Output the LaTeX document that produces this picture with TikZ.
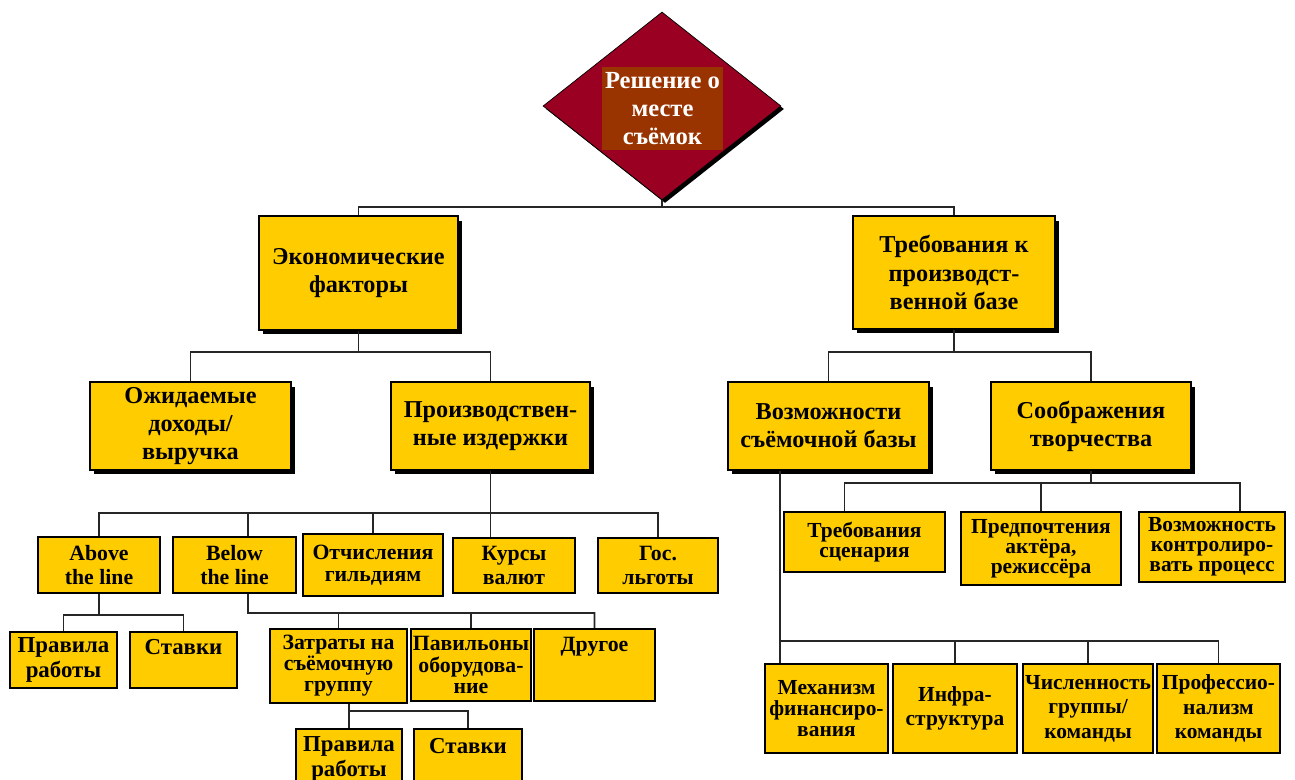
\documentclass[tikz,border=0pt]{standalone}
\usepackage{fontspec}
\setmainfont{Liberation Serif}
\usetikzlibrary{positioning, shapes.geometric, shadows}
\definecolor{boxyellow}{RGB}{255,204,0}
\definecolor{decred}{RGB}{153,0,34}
\definecolor{decbrown}{RGB}{153,51,0}

\begin{document}
\begin{tikzpicture}[x=0.02cm, y=-0.02cm,
		shade/.style={drop shadow={shadow xshift=0.08cm, shadow yshift=-0.09cm, fill=black, opacity=1}},
		lvl/.style={rectangle, draw=black, line width=1.1pt, fill=boxyellow, align=center, inner sep=1pt, shade, font=\fontsize{13.8}{16}\selectfont\bfseries},
		sub/.style={rectangle, draw=black, line width=1.1pt, fill=boxyellow, align=center, inner sep=1pt, font=\fontsize{12.4}{14}\selectfont\bfseries},
		big/.style={font=\fontsize{13}{14.7}\selectfont\bfseries},
		tight/.style={font=\fontsize{12.2}{11.5}\selectfont\bfseries},
		link/.style={draw=black!85, line width=1pt}]
	\useasboundingbox (0,0) rectangle (1295,780);
	\node[diamond, draw=black, fill=decred, minimum width=4.76cm, minimum height=3.76cm, inner sep=0pt, drop shadow={shadow xshift=0.06cm, shadow yshift=-0.06cm, fill=black, opacity=1}] (dec) at (662,106) {};
	\node[fill=decbrown, text=white, align=center, inner sep=0pt, minimum width=2.42cm, minimum height=1.66cm, font=\fontsize{14}{16}\selectfont\bfseries] (dectxt) at (662.5,108.5) {Решение о\\месте\\съёмок};
	\node[lvl, minimum width=3.98cm, minimum height=2.28cm] (econ) at (358.5,273) {Экономические\\факторы};
	\node[lvl, minimum width=4.04cm, minimum height=2.26cm] (base) at (954,272.5) {Требования к\\производст-\\венной базе};
	\node[lvl, minimum width=4.02cm, minimum height=1.76cm] (income) at (190.5,426) {Ожидаемые\\доходы/\\выручка};
	\node[lvl, minimum width=3.98cm, minimum height=1.76cm] (cost) at (490.5,426) {Производствен-\\ные издержки};
	\node[lvl, minimum width=4.02cm, minimum height=1.76cm] (site) at (828.5,426) {Возможности\\съёмочной базы};
	\node[lvl, minimum width=4.00cm, minimum height=1.76cm] (art) at (1091,426) {Соображения\\творчества};
	\node[sub, minimum width=2.44cm, minimum height=1.12cm] (above) at (99,565) {Above\\the line};
	\node[sub, minimum width=2.46cm, minimum height=1.12cm] (below) at (234.5,565) {Below\\the line};
	\node[sub, minimum width=2.80cm, minimum height=1.24cm, font=\fontsize{12.4}{12.5}\selectfont\bfseries] (guild) at (373,565) {Отчисления\\гильдиям};
	\node[sub, minimum width=2.44cm, minimum height=1.10cm] (fx) at (514,565.5) {Курсы\\валют};
	\node[sub, minimum width=2.40cm, minimum height=1.10cm] (gov) at (658,565.5) {Гос.\\льготы};
	\node[sub, big, minimum width=2.14cm, minimum height=1.12cm] (rulesA) at (63.5,660) {Правила\\работы};
	\node[sub, big, minimum width=2.14cm, minimum height=1.12cm] (ratesA) at (183.5,660) {Ставки\\~};
	\node[sub, minimum width=2.74cm, minimum height=1.48cm, font=\fontsize{12.4}{12}\selectfont\bfseries] (crew) at (338.5,666) {Затраты на\\съёмочную\\группу};
	\node[sub, minimum width=2.40cm, minimum height=1.44cm, font=\fontsize{12.4}{12}\selectfont\bfseries] (stage) at (471,665) {Павильоны\\оборудова-\\ние};
	\node[sub, minimum width=2.42cm, minimum height=1.44cm, font=\fontsize{12.4}{12}\selectfont\bfseries] (other) at (594.5,665) {Другое\\~\\~};
	\node[sub, big, minimum width=2.12cm, minimum height=1.20cm] (rulesB) at (349,759) {Правила\\работы};
	\node[sub, big, minimum width=2.16cm, minimum height=1.20cm] (ratesB) at (468,759) {Ставки\\~};
	\node[sub, tight, minimum width=3.22cm, minimum height=1.20cm] (script) at (864.5,542) {Требования\\сценария};
	\node[sub, tight, minimum width=3.20cm, minimum height=1.46cm] (actor) at (1041,548.5) {Предпочтения\\актёра,\\режиссёра};
	\node[sub, tight, minimum width=2.92cm, minimum height=1.40cm] (control) at (1212,547) {Возможность\\контролиро-\\вать процесс};
	\node[sub, minimum width=2.46cm, minimum height=1.78cm, font=\fontsize{12.2}{12}\selectfont\bfseries] (fund) at (826.5,708.5) {Механизм\\финансиро-\\вания};
	\node[sub, minimum width=2.48cm, minimum height=1.78cm, font=\fontsize{12.2}{13.5}\selectfont\bfseries] (infra) at (955,708.5) {Инфра-\\структура};
	\node[sub, minimum width=2.56cm, minimum height=1.78cm, font=\fontsize{12.2}{13.9}\selectfont\bfseries] (size) at (1088,708.5) {Численность\\группы/\\команды};
	\node[sub, minimum width=2.46cm, minimum height=1.78cm, font=\fontsize{12.2}{13.9}\selectfont\bfseries] (prof) at (1218.5,708.5) {Профессио-\\нализм\\команды};
	\coordinate (j0) at (662,207);
	\coordinate (j1) at (358.5,352);
	\coordinate (j2) at (954,352);
	\coordinate (j3) at (490.5,513);
	\coordinate (j4) at (99,615);
	\coordinate (j5) at (248,613);
	\coordinate (j6) at (349,711);
	\coordinate (j7) at (780,641);
	\coordinate (j8) at (1091,483);
	\draw[link] (dec.south) -- (j0);
	\draw[link] (econ.north) |- (j0) -| (base.north);
	\draw[link] (econ.south) -- (j1);
	\draw[link] (income.north) |- (j1) -| (cost.north);
	\draw[link] (base.south) -- (j2);
	\draw[link] (site.north) |- (j2) -| (art.north);
	\draw[link] (cost.south) -- (j3);
	\draw[link] (above.north) |- (j3) -| (gov.north);
	\draw[link] ([xshift=0.27cm]below.north) -- ([xshift=0.27cm]below.north |- j3);
	\draw[link] (guild.north) -- (guild.north |- j3);
	\draw[link] (j3) -- (j3 |- fx.north);
	\draw[link] (above.south) -- (j4);
	\draw[link] (rulesA.north) |- (j4) -| (ratesA.north);
	\draw[link] ([xshift=0.27cm]below.south) -- (j5) -| (other.north);
	\draw[link] (crew.north) -- (crew.north |- j5);
	\draw[link] (stage.north) -- (stage.north |- j5);
	\draw[link] (crew.south -| j6) -- (j6) -- (rulesB.north -| j6);
	\draw[link] (j6) -| (ratesB.north);
	\draw[link] (site.south -| j7) -- (j7) -| (prof.north);
	\draw[link] (j7) -- (j7 |- fund.north);
	\draw[link] (infra.north) -- (infra.north |- j7);
	\draw[link] (size.north) -- (size.north |- j7);
	\draw[link] (art.south) -- (j8);
	\draw[link] ([xshift=-0.4cm]script.north) |- (j8) -| ([xshift=0.56cm]control.north);
	\draw[link] (actor.north) -- (actor.north |- j8);
\end{tikzpicture}
\end{document}
